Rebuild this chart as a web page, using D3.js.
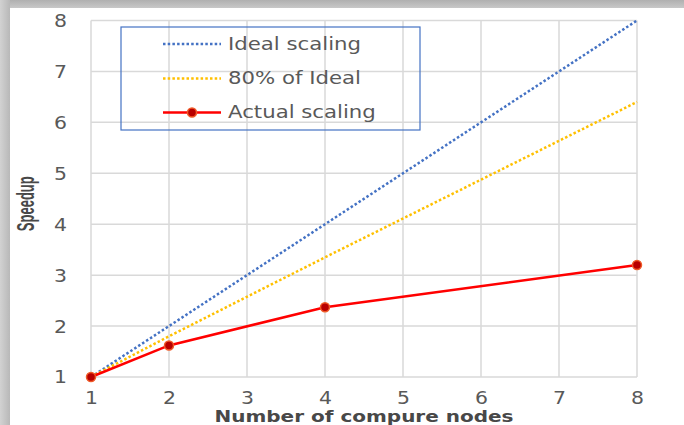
<!DOCTYPE html>
<html>
<head>
<meta charset="utf-8">
<script src="https://cdn.jsdelivr.net/npm/d3@7"></script>
<style>
  html, body { margin: 0; padding: 0; background: #fff; }
  svg { display: block; }
</style>
</head>
<body>
<svg id="chart" width="684" height="425"></svg>
<script>
// Speedup versus number of compute nodes
const nodes = [1, 2, 4, 8];
const idealScaling = [1, 2, 4, 8];
const eightyPctIdeal = [1, 1.8, 3.35, 6.4];
const actualScaling = [1, 1.62, 2.37, 3.2];
const xTicks = [1, 2, 3, 4, 5, 6, 7, 8];
const yTicks = [1, 2, 3, 4, 5, 6, 7, 8];
const seriesNames = ["Ideal scaling", "80% of Ideal", "Actual scaling"];

const W = 684, H = 425;
const svg = d3.select("#chart");
const defs = svg.append("defs");

// soft shadow bands along the top and left edges of the card
const gTop = defs.append("linearGradient").attr("id", "shTop")
  .attr("x1", 0).attr("y1", 0).attr("x2", 0).attr("y2", 1);
gTop.append("stop").attr("offset", "0%").attr("stop-color", "#b0b0b0");
gTop.append("stop").attr("offset", "100%").attr("stop-color", "#c8c8c8");
const gLeft = defs.append("linearGradient").attr("id", "shLeft")
  .attr("x1", 0).attr("y1", 0).attr("x2", 1).attr("y2", 0);
gLeft.append("stop").attr("offset", "0%").attr("stop-color", "#d2d2d2");
gLeft.append("stop").attr("offset", "100%").attr("stop-color", "#b8b8b8");

svg.append("rect").attr("x", 0).attr("y", 0).attr("width", W).attr("height", 8).attr("fill", "url(#shTop)");
svg.append("rect").attr("x", 0).attr("y", 0).attr("width", 10).attr("height", H).attr("fill", "url(#shLeft)");
svg.append("rect").attr("x", 10).attr("y", 8).attr("width", W - 10).attr("height", H - 8).attr("fill", "#fff");

const x = d3.scaleLinear().domain([1, 8]).range([91, 637]);
const y = d3.scaleLinear().domain([1, 8]).range([377, 20.5]);

// gridlines
const grid = svg.append("g").attr("stroke", "#d9d9d9").attr("stroke-width", 1.5);
grid.selectAll("line.v").data(xTicks).join("line").attr("class", "v")
  .attr("x1", d => x(d)).attr("x2", d => x(d)).attr("y1", y(8)).attr("y2", y(1));
grid.selectAll("line.h").data(yTicks).join("line").attr("class", "h")
  .attr("y1", d => y(d)).attr("y2", d => y(d)).attr("x1", x(1)).attr("x2", x(8));

// axes (labels only, slightly widened glyphs)
const tickFont = "DejaVu Sans, Verdana, sans-serif";
const xAxis = svg.append("g").attr("transform", `translate(0,${y(1)})`)
  .call(d3.axisBottom(x).tickValues(xTicks).tickSize(0).tickPadding(0).tickFormat(d3.format("d")));
xAxis.select(".domain").remove();
xAxis.selectAll("text")
  .attr("y", 27).attr("dy", 0)
  .attr("fill", "#595959").attr("font-size", 17).attr("font-family", tickFont)
  .attr("transform", "scale(1.2,1)");

const yAxis = svg.append("g").attr("transform", `translate(${x(1)},0)`)
  .call(d3.axisLeft(y).tickValues(yTicks).tickSize(0).tickPadding(0).tickFormat(d3.format("d")));
yAxis.select(".domain").remove();
yAxis.selectAll("text")
  .attr("x", -20).attr("dy", "0.35em")
  .attr("fill", "#595959").attr("font-size", 17).attr("font-family", tickFont)
  .attr("transform", "scale(1.2,1)");

// axis titles
svg.append("text")
  .attr("transform", `translate(${(x(1) + x(8)) / 2},422) scale(1.25,1)`)
  .attr("text-anchor", "middle")
  .attr("font-family", "DejaVu Sans, Verdana, sans-serif").attr("font-weight", "bold")
  .attr("font-size", 16).attr("fill", "#484848")
  .text("Number of compure nodes");

svg.append("text")
  .attr("transform", `translate(34,${(y(1) + y(8)) / 2 + 5}) scale(1.3,1) rotate(-90)`)
  .attr("text-anchor", "middle")
  .attr("font-family", "Liberation Sans, Arial, sans-serif").attr("font-weight", "bold")
  .attr("font-size", 19).attr("fill", "#484848")
  .attr("textLength", 55).attr("lengthAdjust", "spacingAndGlyphs")
  .text("Speedup");

// series
const line = d3.line().x(d => x(d[0])).y(d => y(d[1]));
const zip = vals => nodes.map((n, i) => [n, vals[i]]);

svg.append("path").datum(zip(idealScaling)).attr("d", line)
  .attr("fill", "none").attr("stroke", "#4472c4").attr("stroke-width", 2.5)
  .attr("stroke-dasharray", "2.5,2.2");
svg.append("path").datum(zip(eightyPctIdeal)).attr("d", line)
  .attr("fill", "none").attr("stroke", "#ffc000").attr("stroke-width", 2.5)
  .attr("stroke-dasharray", "2.5,2.2");
svg.append("path").datum(zip(actualScaling)).attr("d", line)
  .attr("fill", "none").attr("stroke", "#ff0000").attr("stroke-width", 2.5);
svg.selectAll("circle.pt").data(zip(actualScaling)).join("circle").attr("class", "pt")
  .attr("cx", d => x(d[0])).attr("cy", d => y(d[1])).attr("r", 4.5)
  .attr("fill", "#b80000").attr("stroke", "#f05a28").attr("stroke-width", 1.5);

// legend
const legend = svg.append("g");
legend.append("rect").attr("x", 121).attr("y", 27).attr("width", 299).attr("height", 103)
  .attr("fill", "none").attr("stroke", "#4472c4").attr("stroke-width", 1.2);
const rowsY = [44, 78.5, 112.5];
const styles = [
  { stroke: "#4472c4", dash: "2.5,2.2", marker: false },
  { stroke: "#ffc000", dash: "2.5,2.2", marker: false },
  { stroke: "#ff0000", dash: null, marker: true }
];
seriesNames.forEach((name, i) => {
  const s = styles[i];
  const ly = rowsY[i];
  legend.append("line").attr("x1", 163).attr("x2", 221).attr("y1", ly).attr("y2", ly)
    .attr("stroke", s.stroke).attr("stroke-width", 2.5)
    .attr("stroke-dasharray", s.dash);
  if (s.marker) {
    legend.append("circle").attr("cx", 192).attr("cy", ly).attr("r", 4.5)
      .attr("fill", "#b80000").attr("stroke", "#f05a28").attr("stroke-width", 1.5);
  }
  legend.append("text")
    .attr("transform", `translate(228,${ly}) scale(1.25,1)`)
    .attr("dy", "0.35em")
    .attr("font-family", tickFont).attr("font-size", 17).attr("fill", "#595959")
    .text(name);
});
</script>
</body>
</html>
